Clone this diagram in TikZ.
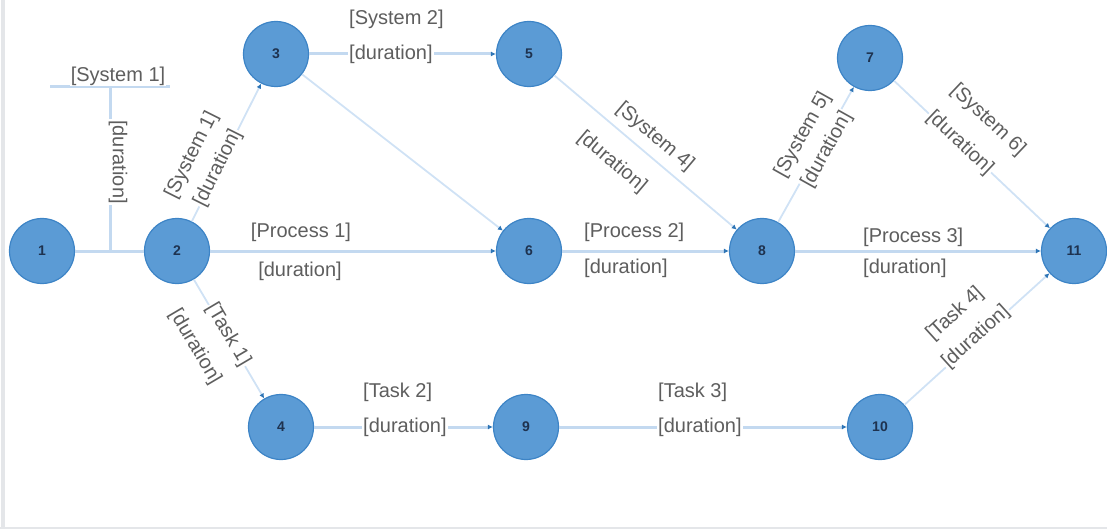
\documentclass[tikz,border=0pt]{standalone}
\usepackage{fontspec}
\setmainfont{Liberation Sans}
\usetikzlibrary{arrows.meta}
\definecolor{nodefill}{HTML}{5B9BD5}
\definecolor{nodeline}{HTML}{3D84C6}
\definecolor{edgeblue}{HTML}{C3D9F0}
\definecolor{edgediag}{HTML}{D0E2F5}
\definecolor{tipblue}{HTML}{2E75B6}
\definecolor{labelgray}{HTML}{5E5E5E}
\definecolor{numcol}{HTML}{1E324F}
\definecolor{framegray}{HTML}{E4E6E9}
\begin{document}
\begin{tikzpicture}[x=1pt,y=-1pt,
  ev/.style={circle, fill=nodefill, draw=nodeline, line width=1.2pt, minimum size=65pt, inner sep=0pt, font=\fontsize{14}{14}\selectfont\bfseries, text=numcol},
  plainline/.style={draw=edgeblue, line width=3pt},
  hline/.style={draw=edgeblue, line width=3pt, -{Latex[length=5pt,width=5pt,color=tipblue]}},
  dline/.style={draw=edgediag, line width=1.8pt, -{Latex[length=5pt,width=5pt,color=tipblue]}},
  lbl/.style={font=\fontsize{20}{20}\selectfont, text=labelgray, inner sep=1pt, fill=white},
]
\useasboundingbox (0,0) rectangle (1107,529);
\fill[framegray] (1,0) rectangle (4.5,529);
\fill[framegray] (0,526.5) rectangle (1107,529);

% events
\node[ev] (n1) at (42,251) {1};
\node[ev] (n2) at (177,251) {2};
\node[ev] (n3) at (276,54) {3};
\node[ev] (n5) at (529,54) {5};
\node[ev] (n6) at (529,251) {6};
\node[ev] (n7) at (870,58) {7};
\node[ev] (n8) at (762,251) {8};
\node[ev] (n11) at (1074,251) {11};
\node[ev] (n4) at (281,427) {4};
\node[ev] (n9) at (526,427) {9};
\node[ev] (n10) at (880,427) {10};

% branch from 1-2
\coordinate (br) at (110,251);
\coordinate (bt) at (110,87);
\coordinate (hl) at (50,87);
\coordinate (hr) at (170,87);

% connectors
\draw[plainline] (n1) -- (n2);
\draw[plainline] (br) -- (bt);
\draw[plainline] (hl) -- (hr);
\draw[dline] (n2) -- (n3);
\draw[hline] (n3) -- (n5);
\draw[dline] (n3) -- (n6);
\draw[hline] (n2) -- (n6);
\draw[dline] (n5) -- (n8);
\draw[hline] (n6) -- (n8);
\draw[dline] (n8) -- (n7);
\draw[dline] (n7) -- (n11);
\draw[hline] (n8) -- (n11);
\draw[dline] (n2) -- (n4);
\draw[hline] (n4) -- (n9);
\draw[hline] (n9) -- (n10);
\draw[dline] (n10) -- (n11);

% labels
\node[lbl] (l1a) at (118,76) {[System 1]};
\node[lbl, rotate=-90] (l1b) at (118,162) {[duration]};

\node[lbl, rotate=63.4] (l23a) at (192,155) {[System 1]};
\node[lbl, rotate=63.4] (l23b) at (218,168) {[duration]};

\node[lbl, anchor=west] (l35a) at (348,19) {[System 2]};
\node[lbl, anchor=west] (l35b) at (348,54) {[duration]};

\node[lbl] (l26a) at (301,232) {[Process 1]};
\node[lbl] (l26b) at (300,271) {[duration]};

\node[lbl, rotate=-40.1] (l58a) at (655,137) {[System 4]};
\node[lbl, rotate=-40.1] (l58b) at (612,162) {[duration]};

\node[lbl, anchor=west] (l68a) at (583,232) {[Process 2]};
\node[lbl, anchor=west] (l68b) at (583,268) {[duration]};

\node[lbl, rotate=60.8] (l87a) at (803,135) {[System 5]};
\node[lbl, rotate=60.8] (l87b) at (827,150) {[duration]};

\node[lbl, rotate=-43.4] (l711a) at (988,120) {[System 6]};
\node[lbl, rotate=-43.4] (l711b) at (960,143) {[duration]};

\node[lbl, anchor=west] (l811a) at (862,237) {[Process 3]};
\node[lbl, anchor=west] (l811b) at (862,268) {[duration]};

\node[lbl, rotate=-59.4] (l24a) at (228,335) {[Task 1]};
\node[lbl, rotate=-59.4] (l24b) at (195,347) {[duration]};

\node[lbl, anchor=west] (l49a) at (362,392) {[Task 2]};
\node[lbl, anchor=west] (l49b) at (362,427) {[duration]};

\node[lbl, anchor=west] (l910a) at (657,392) {[Task 3]};
\node[lbl, anchor=west] (l910b) at (657,427) {[duration]};

\node[lbl, rotate=42.2] (l1011a) at (955,314) {[Task 4]};
\node[lbl, rotate=42.2] (l1011b) at (976,337) {[duration]};
\end{tikzpicture}
\end{document}
